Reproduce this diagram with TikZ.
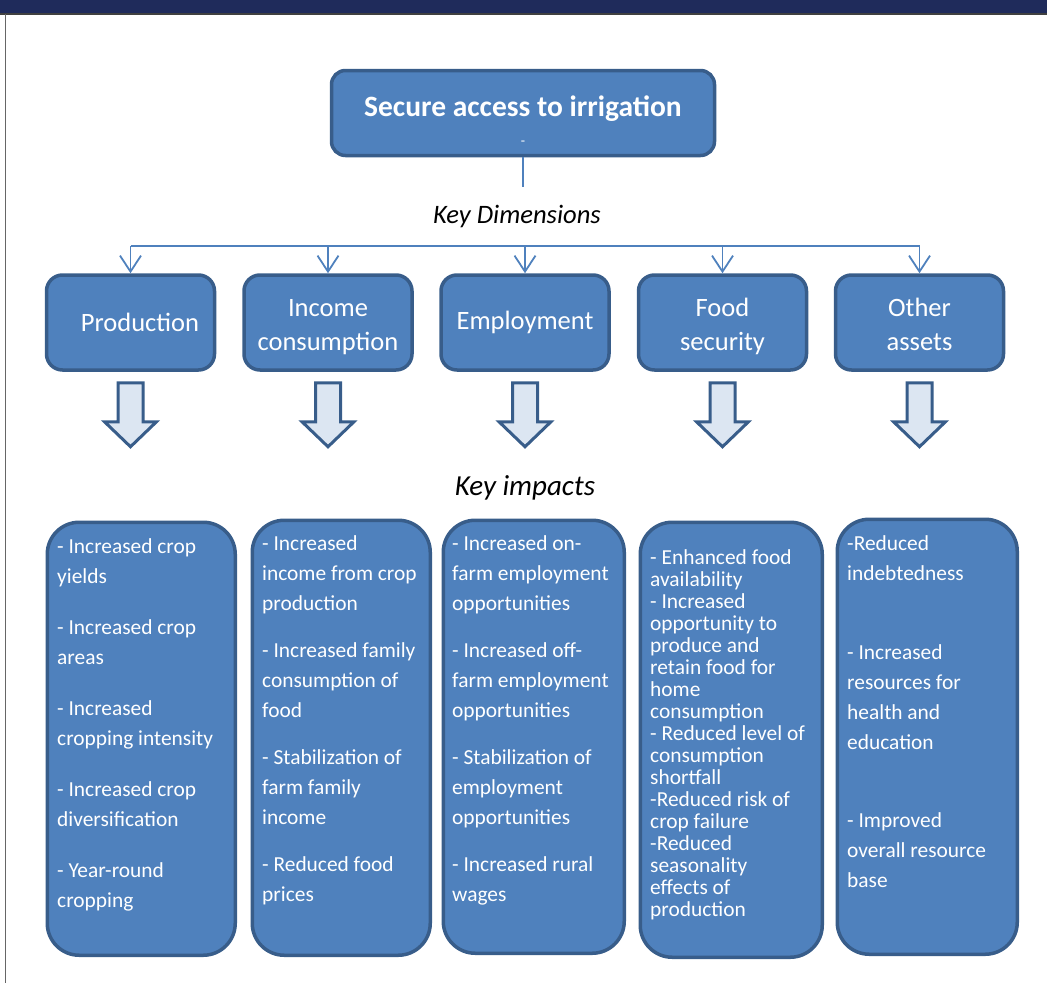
\documentclass[tikz,border=0pt]{standalone}
\usepackage{fontspec}
\setmainfont{Carlito}
\usepackage{tikz}
\usetikzlibrary{arrows.meta,calc,positioning}
\definecolor{boxfill}{HTML}{4F81BD}
\definecolor{boxline}{HTML}{385D8A}
\definecolor{arrowfill}{HTML}{DCE6F2}
\definecolor{band}{HTML}{1F2B5B}
\newcommand{\upstrut}{\rule{0pt}{28pt}}
\newcommand{\downstrut}{\rule[-6pt]{0pt}{0pt}}
\tikzset{
  conn/.style={draw=boxfill,line width=1.8pt},
  dimbox/.style={draw=boxline,fill=boxfill,line width=3.5pt,rounded corners=16pt,
    minimum width=168pt,minimum height=95pt,text=white,align=center,
    font=\fontsize{26.5}{33.5}\selectfont},
  impbox/.style={draw=boxline,fill=boxfill,line width=3.5pt,rounded corners=32pt,
    anchor=north west},
  imptext/.style={text=white,align=left,anchor=north west,inner sep=0pt,
    font=\fontsize{21.4}{30}\selectfont},
  heading/.style={font=\itshape\fontsize{26.6}{30}\selectfont},
  blockarrow/.style={draw=boxline,fill=arrowfill,line width=3pt,miter limit=10}
}

\begin{document}
\begin{tikzpicture}[x=1pt,y=-1pt]
  \useasboundingbox (0,0) rectangle (1047,983);
  % frame of the page
  \fill[band] (0,0) rectangle (1047,13);
  \draw[black!75,line width=1.5pt] (0,14) -- (1047,14);
  \draw[black!60,line width=1pt] (5,14) -- (5,983);

  % top node
  \node[dimbox,rounded corners=14pt,minimum width=383pt,minimum height=85pt]
    (top) at (523,113)
    {\rule{0pt}{36pt}\bfseries\fontsize{29.5}{29.5}\selectfont Secure access to irrigation\\[-4pt]
     \fontsize{14}{14}\selectfont -};
  \coordinate (stem) at (523,187);
  \draw[conn] (top.south) -- (stem);
  \node[heading] (keydim) at (517,216) {Key Dimensions};

  % key dimensions
  \node[dimbox] (d1) at (130.5,322.5) {\hspace*{19pt}Production};
  \node[dimbox] (d2) at (328,322.5) {\upstrut Income\\consumption\downstrut};
  \node[dimbox] (d3) at (525,322.5) {Employment};
  \node[dimbox] (d4) at (722.5,322.5) {\upstrut Food\\security\downstrut};
  \node[dimbox] (d5) at (919.5,322.5) {\upstrut Other\\assets\downstrut};

  \coordinate (bus) at (523,246);
  \draw[conn] (d1.north |- bus) -- (d5.north |- bus);
  \foreach \i in {1,...,5}{
    \draw[conn,-{Straight Barb[length=16pt,width=21pt]}] (d\i.north |- bus) -- (d\i.north);
  }
  % block arrows
  \foreach \i in {1,...,5}{
    \draw[blockarrow] ($(d\i.south)+(-12.5,11)$) -- ++(25,0) -- ++(0,39) -- ++(13.5,0)
      -- ++(-26,25) -- ++(-26,-25) -- ++(13.5,0) -- cycle;
  }

  \node[heading,font=\itshape\fontsize{29}{30}\selectfont] (keyimp) at (525,488) {Key impacts};

  % key impacts
  \node[impbox,minimum width=188pt,minimum height=433pt] (i1) at (45.5,520.5) {};
  \node[impbox,minimum width=178pt,minimum height=435pt] (i2) at (250.5,518.5) {};
  \node[impbox,minimum width=181pt,minimum height=433pt] (i3) at (441.5,518.5) {};
  \node[impbox,minimum width=182pt,minimum height=435pt] (i4) at (638.5,520.5) {};
  \node[impbox,minimum width=180pt,minimum height=435pt] (i5) at (835.5,517.5) {};

  \node[imptext] (t1) at ($(i1.north west)+(11.5,18)$)
    {- Increased crop\\yields\\[21pt]- Increased crop\\areas\\[21pt]- Increased\\cropping intensity\\[21pt]- Increased crop\\diversification\\[21pt]- Year-round\\cropping};
  \node[imptext] (t2) at ($(i2.north west)+(11.5,16.5)$)
    {- Increased\\income from crop\\production\\[17pt]- Increased family\\consumption of\\food\\[17pt]- Stabilization of\\farm family\\income\\[17pt]- Reduced food\\prices};
  \node[imptext] (t3) at ($(i3.north west)+(10.5,16.5)$)
    {- Increased on-\\farm employment\\opportunities\\[17pt]- Increased off-\\farm employment\\opportunities\\[17pt]- Stabilization of\\employment\\opportunities\\[17pt]- Increased rural\\wages};
  \node[imptext,font=\fontsize{21.4}{22}\selectfont] (t4) at ($(i4.north west)+(11.5,29)$)
    {- Enhanced food\\availability\\- Increased\\opportunity to\\produce and\\retain food for\\home\\consumption\\- Reduced level of\\consumption\\shortfall\\-Reduced risk of\\crop failure\\-Reduced\\seasonality\\effects of\\production};
  \node[imptext] (t5) at ($(i5.north west)+(11.5,17.5)$)
    {-Reduced\\indebtedness\\[49pt]- Increased\\resources for\\health and\\education\\[48pt]- Improved\\overall resource\\base};
\end{tikzpicture}
\end{document}
